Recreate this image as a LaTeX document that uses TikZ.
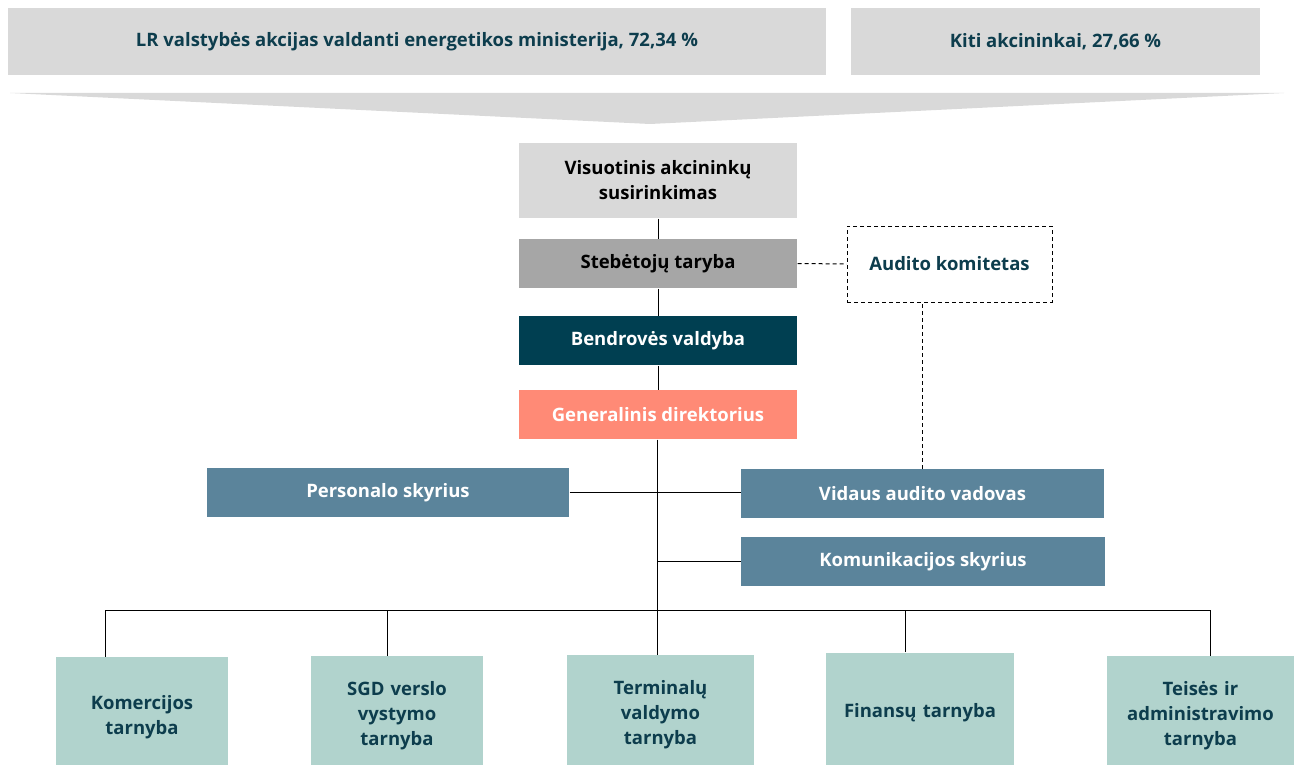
\documentclass[tikz,border=0pt]{standalone}
\usepackage{fontspec}
\setmainfont{Open Sans}
\usetikzlibrary{positioning}
\definecolor{lightgrey}{HTML}{D9D9D9}
\definecolor{midgrey}{HTML}{A6A6A6}
\definecolor{navy}{HTML}{003F51}
\definecolor{salmon}{HTML}{FF8A76}
\definecolor{steel}{HTML}{5B849B}
\definecolor{mint}{HTML}{B1D3CD}
\definecolor{inkteal}{HTML}{0D3D4D}
\tikzset{org/.style={x=1pt,y=-1pt,line width=1pt},
    unit/.style={rectangle,inner sep=2pt,align=center,font=\fontsize{18.5}{25}\selectfont\bfseries},
    owner/.style={unit,fill=lightgrey,text=inkteal,minimum height=67pt},
    board/.style={unit,minimum width=278pt,minimum height=49pt},
    dept/.style={unit,fill=steel,text=white,minimum height=49pt},
    service/.style={unit,fill=mint,text=inkteal,minimum height=120pt,text width=168pt},
    link/.style={draw=black},
    dashlink/.style={draw=black,line width=1pt,dash pattern=on 4pt off 3pt}}
\begin{document}
\begin{tikzpicture}[org]
    \useasboundingbox (0,0) rectangle (1296,765);
    % akcininkai
    \node[owner,minimum width=818pt](min) at (417,41.5){\raisebox{-2pt}{LR valstybės akcijas valdanti energetikos ministerija, 72,34 \%}};
    \node[owner,minimum width=409pt](kiti) at (1055.5,41.5){\raisebox{-2pt}{Kiti akcininkai, 27,66 \%}};
    \fill[lightgrey] (10,93) -- (1284,93) -- (650,124) -- cycle;

    % valdymo organai
    \node[board,fill=lightgrey,minimum height=75pt](vas) at (658,180.5){Visuotinis akcininkų\\susirinkimas};
    \node[board,fill=midgrey](st) at (658,263.5){Stebėtojų taryba};
    \node[board,fill=white,draw=black,dashlink,text=inkteal,minimum width=205pt,minimum height=76pt](ak) at (949.5,264){Audito komitetas};
    \node[board,fill=navy,text=white](bv) at (658,340.5){Bendrovės valdyba};
    \node[board,fill=salmon,text=white](gd) at (658,414.5){Generalinis direktorius};

    % skyriai
    \node[dept,minimum width=362pt](ps) at (388,492.5){Personalo skyrius};
    \node[dept,minimum width=363pt](vav) at (922.5,493.5){Vidaus audito vadovas};
    \node[dept,minimum width=364pt](ks) at (923,561.5){Komunikacijos skyrius};

    % tarnybos
    \node[service,minimum width=170pt](kt) at (142,717){Komercijos\\tarnyba};
    \node[service,minimum width=170pt](sgd) at (397,716){SGD verslo\\vystymo\\tarnyba};
    \node[service,minimum width=187pt](tvt) at (660.5,715){Terminalų\\valdymo\\tarnyba};
    \node[service,minimum width=188pt](ft) at (920,712.5){Finansų tarnyba};
    \node[service,minimum width=187pt](tat) at (1200.5,716){Teisės ir\\administravimo\\tarnyba};

    \coordinate (bus) at (657,610);

    \path[link] (vas) edge (st);
    \path[link] (st) edge (bv);
    \path[link] (bv) edge (gd);
    \draw[link] ([xshift=-1pt]gd.south) -- ([xshift=-1pt]gd.south |- bus);
    \draw[link] (ps.east) -- (ps.east -| vav.west);
    \draw[link] (ks.west) -- (ks.west -| bus);
    \draw[link] ([xshift=50pt]kt.north west |- bus) -- ([xshift=10pt]tat.north |- bus);
    \draw[link] ([xshift=50pt]kt.north west) -- ++(0,-47);
    \draw[link] ([xshift=-10pt]sgd.north) -- ([xshift=-10pt]sgd.north |- bus);
    \draw[link] ([xshift=-3.5pt]tvt.north) -- ([xshift=-3.5pt]tvt.north |- bus);
    \draw[link] ([xshift=-15pt]ft.north) -- ([xshift=-15pt]ft.north |- bus);
    \draw[link] ([xshift=10pt]tat.north) -- ([xshift=10pt]tat.north |- bus);

    \draw[dashlink] (st.east) -- (ak.west);
    \draw[dashlink] (vav.north) -- (vav.north |- ak.south);
\end{tikzpicture}
\end{document}
